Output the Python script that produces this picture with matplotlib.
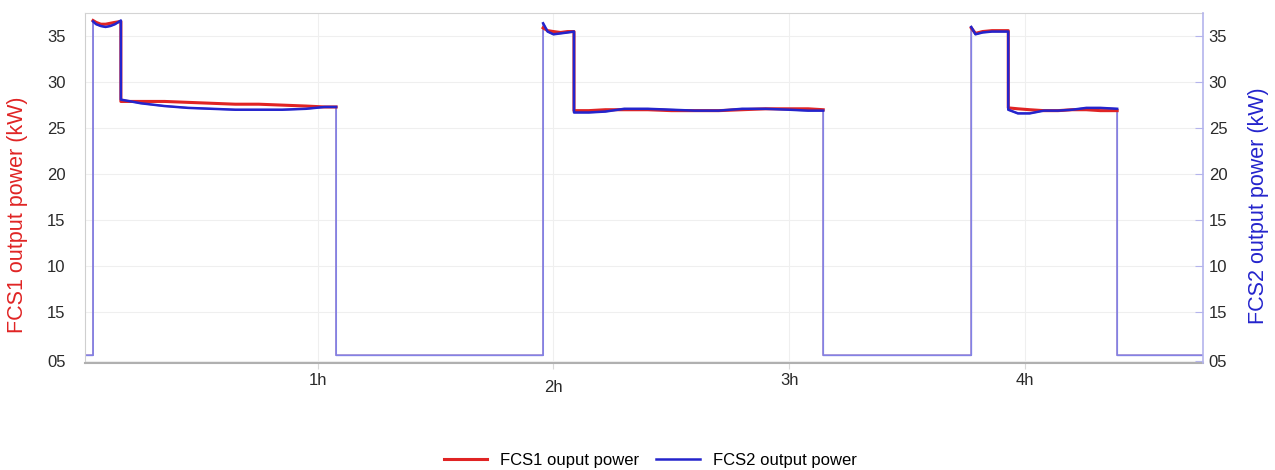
import numpy as np
import matplotlib
matplotlib.use('Agg')
import matplotlib.pyplot as plt
from matplotlib.transforms import ScaledTranslation

plt.rcParams['font.family'] = ['Liberation Sans', 'DejaVu Sans']

# time in hours (duplicated points give the on/off steps)
hours = [0.013, 0.047,
         0.047, 0.06, 0.08, 0.10, 0.12, 0.14, 0.165,
         0.165, 0.25, 0.35, 0.45, 0.55, 0.65, 0.75, 0.85, 0.95, 1.03, 1.078,
         1.078, 1.956,
         1.956, 1.975, 2.00, 2.03, 2.06, 2.087,
         2.087, 2.15, 2.22, 2.30, 2.40, 2.50, 2.60, 2.70, 2.80, 2.90, 3.00, 3.08, 3.144,
         3.144, 3.772,
         3.772, 3.79, 3.82, 3.86, 3.90, 3.929,
         3.929, 3.97, 4.02, 4.08, 4.14, 4.20, 4.26, 4.32, 4.391,
         4.391, 4.756]

fcs1_kw = [0.3, 0.3,
           36.7, 36.5, 36.3, 36.3, 36.4, 36.5, 36.6,
           27.9, 27.9, 27.9, 27.8, 27.7, 27.6, 27.6, 27.5, 27.4, 27.3, 27.3,
           0.3, 0.3,
           35.9, 35.6, 35.5, 35.4, 35.5, 35.5,
           26.9, 26.9, 27.0, 27.0, 27.0, 26.9, 26.9, 26.9, 27.0, 27.1, 27.1, 27.1, 27.0,
           0.3, 0.3,
           35.9, 35.3, 35.5, 35.6, 35.6, 35.6,
           27.2, 27.1, 27.0, 26.9, 26.9, 27.0, 27.0, 26.9, 26.9,
           0.3, 0.3]

fcs2_kw = [0.3, 0.3,
           36.6, 36.3, 36.1, 36.0, 36.1, 36.3, 36.7,
           28.1, 27.7, 27.4, 27.2, 27.1, 27.0, 27.0, 27.0, 27.1, 27.3, 27.3,
           0.3, 0.3,
           36.4, 35.5, 35.2, 35.3, 35.4, 35.5,
           26.7, 26.7, 26.8, 27.1, 27.1, 27.0, 26.9, 26.9, 27.1, 27.1, 27.0, 26.9, 26.9,
           0.3, 0.3,
           36.0, 35.2, 35.4, 35.5, 35.5, 35.5,
           27.0, 26.6, 26.6, 26.9, 26.9, 27.0, 27.2, 27.2, 27.1,
           0.3, 0.3]

ytick_pos = [-0.33, 5, 10, 15, 20, 25, 30, 35]
ytick_labels = ['05', '15', '10', '15', '20', '25', '30', '35']
xtick_pos = [1, 2, 3, 4]
xtick_labels = ['1h', '2h', '3h', '4h']

RED = '#e02424'
BLUE = '#2424cc'

fig = plt.figure(figsize=(12.75, 4.7), dpi=100)
ax = fig.add_axes([0.0667, 0.2277, 0.877, 0.7443])

t = np.array(hours)
p1 = np.array(fcs1_kw)
p2 = np.array(fcs2_kw)

# thin full traces, then thicker "on" parts on top
ax.plot(t, p1, color='#e88080', lw=1.0)
ax.plot(t, p2, color='#8282e6', lw=1.3)
ax.plot(t, np.where(p1 > 1, p1, np.nan), color=RED, lw=2.2, label='FCS1 ouput power')
ax.plot(t, np.where(p2 > 1, p2, np.nan), color=BLUE, lw=1.8, label='FCS2 output power')

ax.set_xlim(0.013, 4.756)
ax.set_ylim(-0.54, 37.5)
ax.set_yticks(ytick_pos)
ax.set_yticklabels(ytick_labels)
ax.set_xticks(xtick_pos)
ax.set_xticklabels(xtick_labels)
ax.grid(True, color='#efefef', lw=0.8)

ax.tick_params(axis='y', length=0, pad=14, labelsize=12, labelcolor='#2a2a2a')
ax.tick_params(axis='x', length=4, color='#d8d8d8', pad=3, labelsize=12, labelcolor='#2a2a2a')
for lab in ax.get_xticklabels():
    if lab.get_text() == '2h':
        lab.set_transform(lab.get_transform() + ScaledTranslation(0, -7 / 100, fig.dpi_scale_trans))

ax.spines['left'].set_color('#cfcfcf')
ax.spines['top'].set_color('#d4d4d4')
ax.spines['bottom'].set_color('#b0b0b0')
ax.spines['bottom'].set_linewidth(1.5)
ax.spines['right'].set_visible(False)
ax.set_ylabel('FCS1 output power (kW)', color=RED, fontsize=15.5)
ax.yaxis.set_label_coords(-0.051, 0.423)

ax2 = ax.twinx()
ax2.set_ylim(ax.get_ylim())
ax2.set_yticks(ytick_pos)
ax2.set_yticklabels(ytick_labels)
ax2.tick_params(axis='y', direction='in', length=6, color='#b4b4ec', pad=4,
                labelsize=12, labelcolor='#2a2a2a')
ax2.spines['right'].set_color('#b4b4ec')
ax2.spines['right'].set_linewidth(1.2)
for s in ['left', 'top', 'bottom']:
    ax2.spines[s].set_visible(False)
ax2.set_ylabel('FCS2 output power (kW)', color=BLUE, fontsize=15.5, rotation=90)
ax2.yaxis.set_label_coords(1.040, 0.45)

fig.legend(loc='lower center', bbox_to_anchor=(0.51, -0.028), ncol=2, frameon=False,
           fontsize=12, handlelength=2.6, columnspacing=1.0)

fig.savefig('out.png', dpi=100)
